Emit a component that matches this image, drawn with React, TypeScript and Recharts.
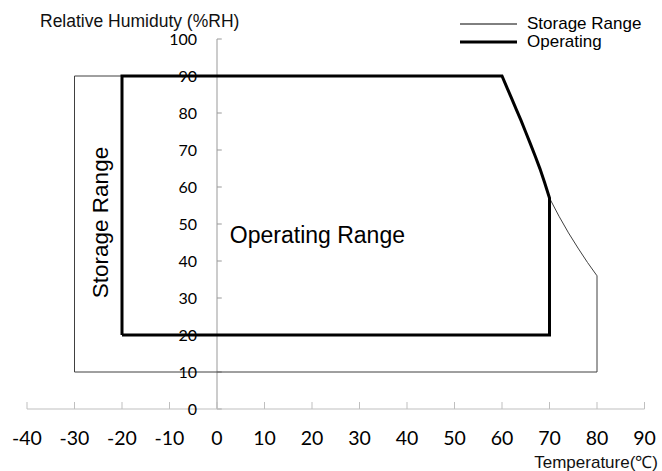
import { LineChart, Line, XAxis, YAxis, ReferenceLine, ReferenceDot, Legend } from 'recharts';

const xTicks = [-40, -30, -20, -10, 0, 10, 20, 30, 40, 50, 60, 70, 80, 90];
const yTicks = [0, 10, 20, 30, 40, 50, 60, 70, 80, 90, 100];

// storage range outline (thin), curve
const storageX = [-30, -30, 60, 61, 62, 63, 64, 65, 66, 67, 68, 69, 70, 72, 74, 76, 78, 80, 80, -30];
const storageY = [10, 90, 90, 87, 84, 81, 78, 74.8, 71.6, 68.3, 64.9, 61.1, 57, 52.1, 47.6, 43.5, 39.6, 36, 10, 10];

// operating range outline (thick)
const operatingX = [-20, -20, 60, 61, 62, 63, 64, 65, 66, 67, 68, 69, 70, 70, -20];
const operatingY = [20, 90, 90, 87, 84, 81, 78, 74.8, 71.6, 68.3, 64.9, 61.1, 57, 20, 20];

const storageData = storageX.map((x, i) => ({ x, y: storageY[i] }));
const operatingData = operatingX.map((x, i) => ({ x, y: operatingY[i] }));

const LABEL_FONT = 'Lato, sans-serif';
const TITLE_FONT = '"Liberation Sans", Arial, sans-serif';

function XTick({ x, y, payload }: any) {
  return (
    <g>
      <line x1={x} x2={x} y1={y} y2={y - 7} stroke="#bfbfbf" />
      <text x={x} y={y + 36} textAnchor="middle" fontFamily={LABEL_FONT} fontSize={19.5} fill="#000">
        {payload.value}
      </text>
    </g>
  );
}

function renderLegend() {
  const rows = [
    { name: 'Storage Range', width: 1 },
    { name: 'Operating', width: 3 },
  ];
  return (
    <div style={{ fontFamily: TITLE_FONT, fontSize: 17, color: '#000' }}>
      {rows.map(r => (
        <div key={r.name} style={{ display: 'flex', alignItems: 'center', height: 18 }}>
          <svg width={57} height={18} style={{ marginRight: 10 }}>
            <line x1={0} x2={57} y1={9} y2={9} stroke="#000" strokeWidth={r.width} />
          </svg>
          <span style={{ lineHeight: '16px' }}>{r.name}</span>
        </div>
      ))}
    </div>
  );
}

export default function App() {
  return (
    <div style={{ position: 'absolute', left: 0, top: 0 }}>
      <LineChart width={662} height={471} margin={{ top: 39, right: 17.5, left: 27, bottom: 0 }}>
        <XAxis
          type="number"
          dataKey="x"
          domain={[-40, 90]}
          ticks={xTicks}
          interval={0}
          height={62}
          tickSize={0}
          tickMargin={0}
          tickLine={false}
          axisLine={{ stroke: '#bfbfbf' }}
          tick={<XTick />}
          label={{
            content: ({ viewBox }: any) => (
              <text
                x={viewBox.x + viewBox.width + 13.5}
                y={viewBox.y + 58.5}
                textAnchor="end"
                fontFamily={TITLE_FONT}
                fontSize={17}
                fill="#111"
              >
                Temperature(℃)
              </text>
            ),
          }}
        />
        <YAxis type="number" domain={[0, 100]} hide />
        <Legend
          layout="vertical"
          align="center"
          verticalAlign="middle"
          content={renderLegend}
          wrapperStyle={{ top: 15, left: 460, width: 200 }}
        />

        {/* y axis drawn at x = 0 */}
        <ReferenceLine
          segment={[{ x: 0, y: 0 }, { x: 0, y: 100 }]}
          stroke="#999"
          label={{
            content: ({ viewBox }: any) => (
              <text
                x={viewBox.x - 177}
                y={viewBox.y - 12.5}
                fontFamily={TITLE_FONT}
                fontSize={17.5}
                fill="#111"
              >
                Relative Humiduty (%RH)
              </text>
            ),
          }}
        />
        {yTicks.map(v => (
          <ReferenceLine
            key={v}
            segment={[{ x: 0, y: v }, { x: 1, y: v }]}
            stroke="#999"
            label={{ value: String(v), position: 'left', offset: 20, fontFamily: LABEL_FONT, fontSize: 16, fill: '#000' }}
          />
        ))}

        <Line data={storageData} dataKey="y" type="linear" stroke="#404040" strokeWidth={1} dot={false} isAnimationActive={false} />
        <Line data={operatingData} dataKey="y" type="linear" stroke="#000" strokeWidth={3} dot={false} isAnimationActive={false} />

        <ReferenceDot
          x={-24.6}
          y={50.4}
          r={0}
          stroke="none"
          label={{
            content: ({ viewBox }: any) => (
              <text
                x={viewBox.x}
                y={viewBox.y}
                transform={`rotate(-90 ${viewBox.x} ${viewBox.y})`}
                textAnchor="middle"
                dy="0.35em"
                fontFamily={TITLE_FONT}
                fontSize={22.5}
                fill="#000"
              >
                Storage Range
              </text>
            ),
          }}
        />
        <ReferenceDot
          x={2.7}
          y={47}
          r={0}
          stroke="none"
          label={{
            content: ({ viewBox }: any) => (
              <text x={viewBox.x} y={viewBox.y} dy="0.36em" fontFamily={TITLE_FONT} fontSize={23} fill="#000">
                Operating Range
              </text>
            ),
          }}
        />
      </LineChart>
    </div>
  );
}
